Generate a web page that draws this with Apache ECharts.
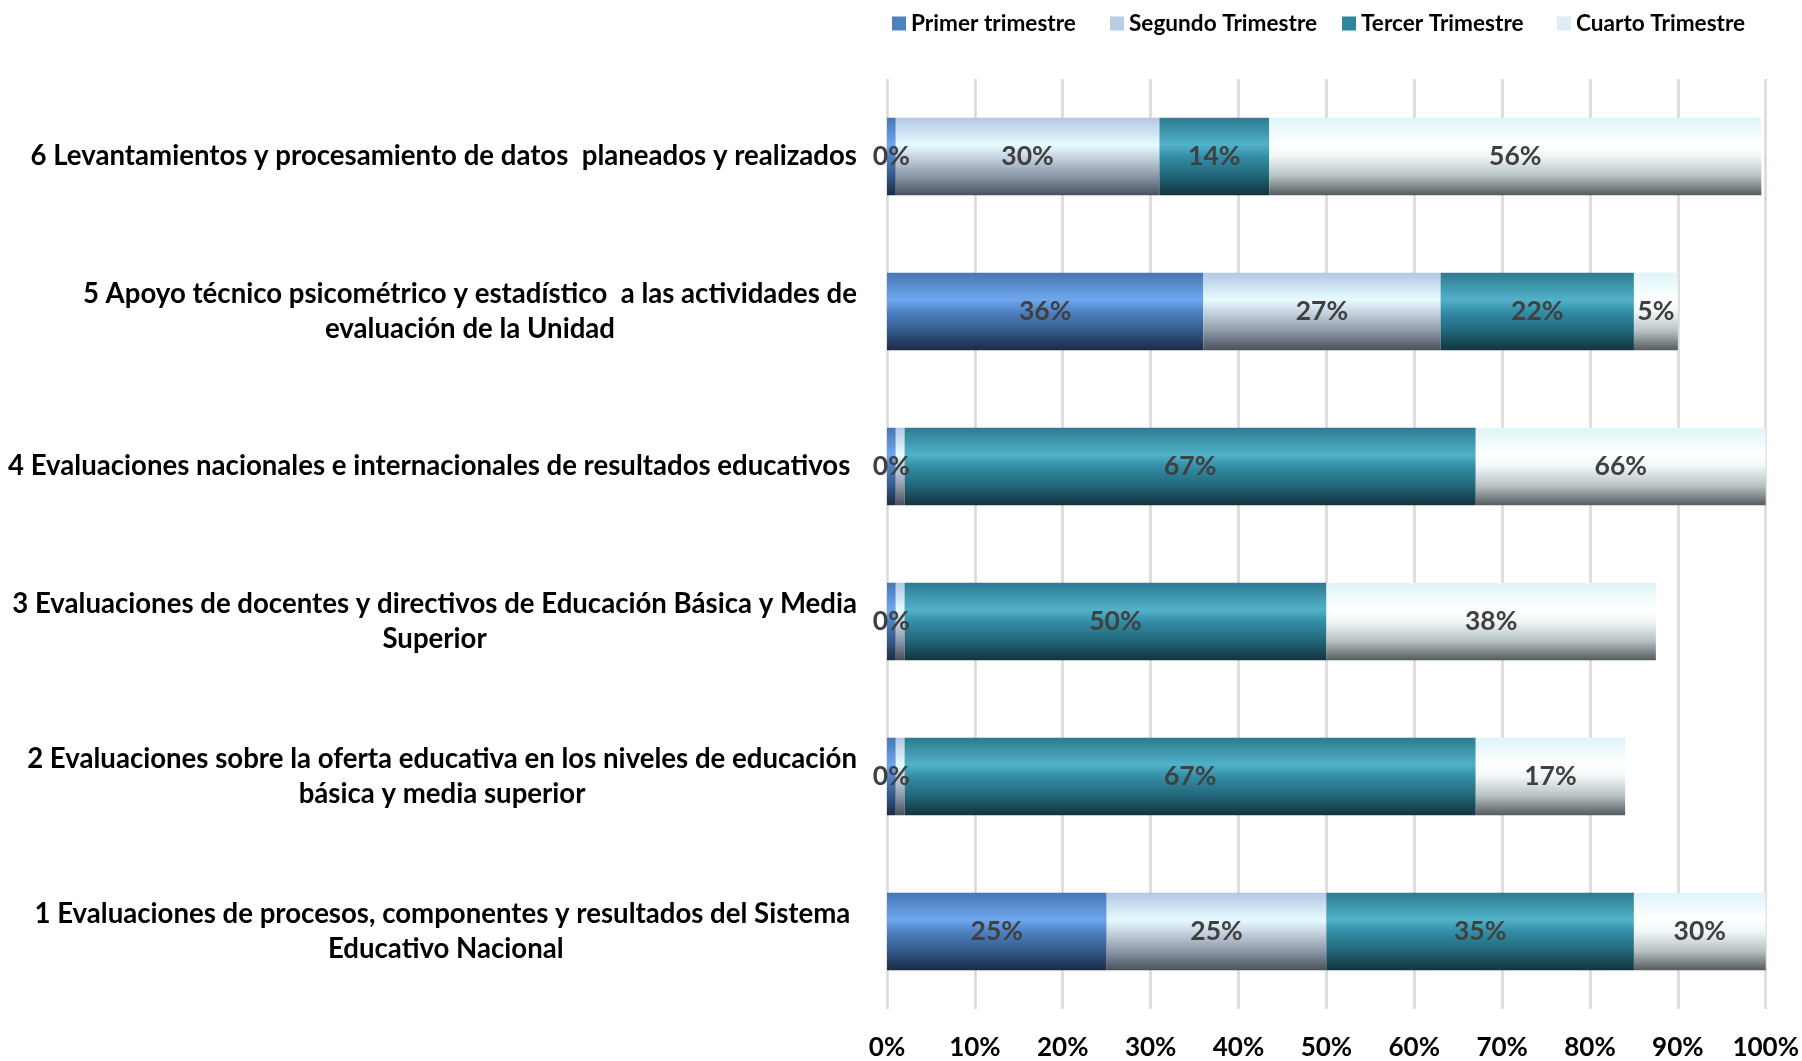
<!DOCTYPE html>
<html>
<head>
<meta charset="utf-8">
<script src="https://cdn.jsdelivr.net/npm/echarts@6/dist/echarts.min.js"></script>
<style>
html,body{margin:0;padding:0;background:#fff;}
#chart{width:1802px;height:1061px;}
</style>
</head>
<body>
<div id="chart"></div>
<script>
// ---- data ----
const categories = [
  '1 Evaluaciones de procesos, componentes y resultados del Sistema \nEducativo Nacional',
  '2 Evaluaciones sobre la oferta educativa en los niveles de educación\nbásica y media superior',
  '3 Evaluaciones de docentes y directivos de Educación Básica y Media\nSuperior',
  '4 Evaluaciones nacionales e internacionales de resultados educativos ',
  '5 Apoyo técnico psicométrico y estadístico  a las actividades de\nevaluación de la Unidad',
  '6 Levantamientos y procesamiento de datos  planeados y realizados'
];
const seriesNames = ['Primer trimestre', 'Segundo Trimestre', 'Tercer Trimestre', 'Cuarto Trimestre'];
const primer  = [25, 1, 1, 1, 36, 1];
const segundo = [25, 1, 1, 1, 27, 30];
const tercer  = [35, 65, 48, 65, 22, 12.5];
const cuarto  = [30, 17, 37.5, 66, 5, 56];
const primerLabels  = ['25%', '0%', '0%', '0%', '36%', '0%'];
const segundoLabels = ['25%', '', '', '', '27%', '30%'];
const tercerLabels  = ['35%', '67%', '50%', '67%', '22%', '14%'];
const cuartoLabels  = ['30%', '17%', '38%', '66%', '5%', '56%'];
const xTicks = [0, 10, 20, 30, 40, 50, 60, 70, 80, 90, 100];

// ---- styles ----
const FONT = 'Lato';
function grad(stops) {
  return new echarts.graphic.LinearGradient(0, 0, 0, 1,
    stops.map((c, i) => ({ offset: [0, 0.35, 0.5, 0.75, 1][i], color: c })));
}
const fills = [
  grad(['#4776b3', '#6ea7ee', '#4f82c2', '#34598a', '#1b2b43']),
  grad(['#b2c7e3', '#e6fbff', '#c9d5e1', '#8d99a8', '#48505a']),
  grad(['#2c7b90', '#52b1ca', '#338ea6', '#226679', '#11333d']),
  grad(['#def5f9', '#ffffff', '#f1f6f7', '#b7c2c4', '#545b5e'])
];
const legendColors = ['#4f81bd', '#b9cde5', '#31859c', '#dbeef4'];
const legendLeft = [892, 1110, 1342, 1557];
const values = [primer, segundo, tercer, cuarto];
const labels = [primerLabels, segundoLabels, tercerLabels, cuartoLabels];

const chart = echarts.init(document.getElementById('chart'));
const option = {
  animation: false,
  backgroundColor: '#ffffff',
  legend: seriesNames.map((n, i) => ({
    data: [{ name: n, itemStyle: { color: legendColors[i] } }],
    left: legendLeft[i],
    top: 12,
    padding: 0,
    icon: 'rect',
    itemWidth: 14,
    itemHeight: 14,
    itemGap: 0,
    textStyle: { fontFamily: FONT, fontWeight: 'bold', fontSize: 22.6, color: '#000' }
  })),
  grid: { left: 887, right: 34, top: 79, bottom: 49, containLabel: false },
  xAxis: {
    type: 'value',
    min: 0, max: 100, interval: 10,
    axisLine: { show: false },
    axisTick: { show: false },
    splitLine: { show: true, lineStyle: { color: '#d9d9d9', width: 2.5 } },
    axisLabel: {
      margin: 26,
      fontFamily: FONT, fontWeight: 'bold', fontSize: 26, color: '#000',
      formatter: v => (xTicks.indexOf(v) >= 0 ? v + '%' : '')
    }
  },
  yAxis: {
    type: 'category',
    data: categories,
    axisLine: { show: false },
    axisTick: { show: false },
    axisLabel: {
      margin: 30,
      align: 'right',
      formatter: v => v.split('\n').map(l => '{c|' + l + '}').join('\n'),
      rich: {
        c: { align: 'center', fontFamily: FONT, fontWeight: 'bold', fontSize: 27.6, color: '#000', lineHeight: 35 }
      }
    }
  },
  series: seriesNames.map((n, i) => ({
    name: n,
    type: 'bar',
    stack: 'total',
    barCategoryGap: '50%',
    itemStyle: { color: fills[i] },
    label: {
      show: true,
      position: 'inside',
      fontFamily: FONT, fontWeight: 'bold', fontSize: 26.5, color: '#404040',
      formatter: p => labels[i][p.dataIndex]
    },
    data: values[i]
  }))
};
chart.setOption(option);
</script>
</body>
</html>
